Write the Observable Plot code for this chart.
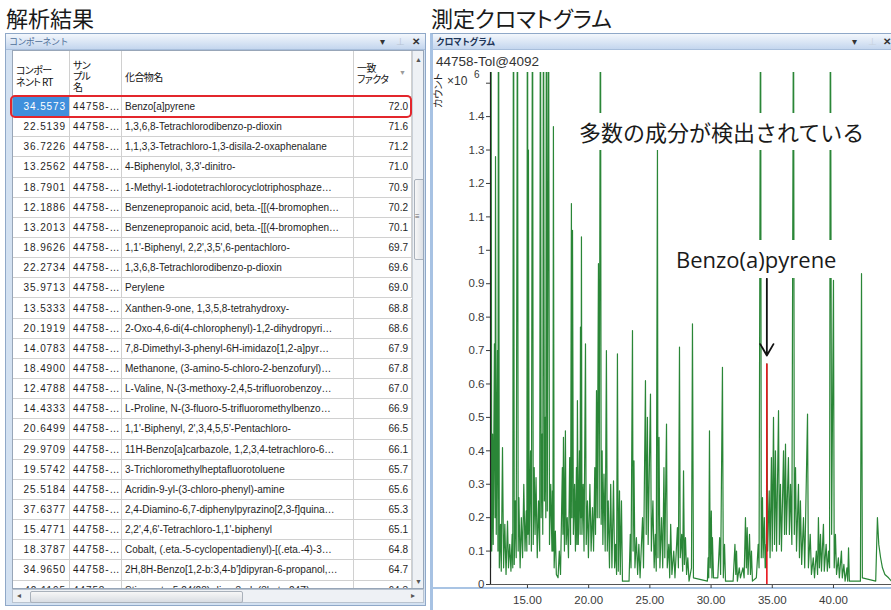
<!DOCTYPE html>
<html><head><meta charset="utf-8">
<script src="https://cdn.jsdelivr.net/npm/d3@7"></script>
<script src="https://cdn.jsdelivr.net/npm/@observablehq/plot@0.6"></script>
<style>
html,body{margin:0;padding:0}
body{width:891px;height:610px;overflow:hidden;background:#fff;position:relative;font-family:"Liberation Sans",Arial,sans-serif}
.abs{position:absolute}
.heading{font-family:"Noto Sans CJK JP";font-size:22px;line-height:26px;color:#1a1a1a;font-feature-settings:"palt";top:4px}
.win{position:absolute;box-sizing:border-box;border:1px solid #8fa8c8;background:#d3e1f1}
.tbar{position:absolute;left:0;right:0;top:0;height:15px;background:linear-gradient(#f3f7fc,#c4d6ee);border-bottom:1px solid #a8bedb}
.tbar .t{position:absolute;left:3px;top:1px;font-family:"Noto Sans CJK JP";font-size:9px;line-height:13px;letter-spacing:-0.6px}
.ico{position:absolute;top:0;font-size:10px;line-height:15px;color:#333}
.grid{position:absolute;background:#fff;border:1px solid #98a6b8;box-sizing:border-box;overflow:hidden}
.cell{position:absolute;white-space:nowrap;overflow:hidden;font-size:10px;color:#1e1e1e;box-sizing:border-box;border-right:1px solid #d0d0d0;border-bottom:1px solid #d0d0d0;padding:0 3px}
.c0,.c3{text-align:right}
.c0,.c1{letter-spacing:0.9px}
.hd{position:absolute;top:0;height:46px;box-sizing:border-box;overflow:hidden;white-space:nowrap;border-right:1px solid #d0d0d0;border-bottom:1px solid #bdbdbd;font-family:"Noto Sans CJK JP";font-size:10px;color:#111;letter-spacing:-0.6px;font-feature-settings:"palt";padding-left:3px}
.note{position:absolute;background:#fff;white-space:nowrap;z-index:5}
</style></head>
<body>
<div class="abs heading" style="left:6px">解析結果</div>
<div class="abs heading" style="left:431px">測定クロマトグラム</div>

<div class="win" style="left:5px;top:33px;width:421px;height:573px">
  <div class="tbar"><span class="t" style="color:#4f6f99">コンポーネント</span>
    <span class="ico" style="left:374px">▾</span><span class="ico" style="left:390px;color:#b8c4d4">⊥</span><span class="ico" style="left:406px;font-weight:bold">✕</span></div>
</div>
<div class="grid" id="grid" style="left:12px;top:50px;width:412px;height:539px"></div>
<div class="abs" id="hscroll" style="left:12px;top:589px;width:412px;height:14px;background:#eef1f5;border:1px solid #b9c3cf;box-sizing:border-box">
  <span class="abs" style="left:4px;top:0;font-size:8px;line-height:12px;color:#555">◂</span>
  <div class="abs" style="left:17px;top:1px;width:211px;height:10px;background:linear-gradient(#f7f7f7,#d9dde3);border:1px solid #a9b1bb;border-radius:2px"></div>
  <span class="abs" style="left:398px;top:0;font-size:8px;line-height:12px;color:#555">▸</span>
</div>
<div class="abs" style="left:10px;top:95px;width:402px;height:23px;border:2px solid #e3262c;border-radius:5px;box-sizing:border-box;z-index:6"></div>

<div class="win" style="left:430px;top:33px;width:470px;height:590px;border-left:3px solid #a7c2e3;background:#fff">
  <div class="tbar"><span class="t" style="color:#1d3558;font-weight:bold">クロマトグラム</span>
    <span class="ico" style="left:419px">▾</span><span class="ico" style="left:435px;color:#c8d2de">⊥</span><span class="ico" style="left:450px;font-weight:bold">✕</span></div>
</div>
<div class="abs" style="left:432px;top:587px;width:459px;height:2px;background:#a9c4e4"></div>
<div class="abs" id="chart" style="left:432px;top:50px"></div>
<div class="abs" style="left:436px;top:54px;font-size:13.5px;color:#333;line-height:16px">44758-Tol@4092</div>
<div class="abs" style="left:432px;top:108px;font-family:'Noto Sans CJK JP';font-size:10px;color:#222;transform:rotate(-90deg);transform-origin:left top;line-height:12px;font-feature-settings:'palt'">カウント</div>
<div class="abs" style="left:447px;top:75px;font-size:12px;color:#333;line-height:12px">×10</div>
<div class="abs" style="left:474px;top:70px;font-size:10px;color:#333;line-height:10px">6</div>
<div class="note" style="left:576px;top:113px;font-family:'Noto Sans CJK JP';font-size:22px;line-height:37px;color:#1a1a1a;padding:0 3px">多数の成分が検出されている</div>
<div class="note" style="left:672px;top:240px;font-family:'Open Sans';font-size:22px;line-height:38px;color:#1a1a1a;padding:0 4px">Benzo(a)pyrene</div>

<script>
// ---------- table data ----------
const rtValues = ["34.5573","22.5139","36.7226","13.2562","18.7901","12.1886","13.2013","18.9626","22.2734","35.9713","13.5333","20.1919","14.0783","18.4900","12.4788","14.4333","20.6499","29.9709","19.5742","25.5184","37.6377","15.4771","18.3787","34.9650","42.1195"];
const sampleLabel = "44758-…";
const compoundNames = [
  "Benzo[a]pyrene",
  "1,3,6,8-Tetrachlorodibenzo-p-dioxin",
  "1,1,3,3-Tetrachloro-1,3-disila-2-oxaphenalane",
  "4-Biphenylol, 3,3'-dinitro-",
  "1-Methyl-1-iodotetrachlorocyclotriphosphaze…",
  "Benzenepropanoic acid, beta.-[[(4-bromophen…",
  "Benzenepropanoic acid, beta.-[[(4-bromophen…",
  "1,1'-Biphenyl, 2,2',3,5',6-pentachloro-",
  "1,3,6,8-Tetrachlorodibenzo-p-dioxin",
  "Perylene",
  "Xanthen-9-one, 1,3,5,8-tetrahydroxy-",
  "2-Oxo-4,6-di(4-chlorophenyl)-1,2-dihydropyri…",
  "7,8-Dimethyl-3-phenyl-6H-imidazo[1,2-a]pyr…",
  "Methanone, (3-amino-5-chloro-2-benzofuryl)…",
  "L-Valine, N-(3-methoxy-2,4,5-trifluorobenzoy…",
  "L-Proline, N-(3-fluoro-5-trifluoromethylbenzo…",
  "1,1'-Biphenyl, 2',3,4,5,5'-Pentachloro-",
  "11H-Benzo[a]carbazole, 1,2,3,4-tetrachloro-6…",
  "3-Trichloromethylheptafluorotoluene",
  "Acridin-9-yl-(3-chloro-phenyl)-amine",
  "2,4-Diamino-6,7-diphenylpyrazino[2,3-f]quina…",
  "2,2',4,6'-Tetrachloro-1,1'-biphenyl",
  "Cobalt, (.eta.-5-cyclopentadienyl)-[(.eta.-4)-3…",
  "2H,8H-Benzo[1,2-b:3,4-b']dipyran-6-propanol,…",
  "Stigmasta-5,24(28)-dien-3-ol, (3beta,24Z)-"
];
const matchFactors = ["72.0","71.6","71.2","71.0","70.9","70.2","70.1","69.7","69.6","69.0","68.8","68.6","67.9","67.8","67.0","66.9","66.5","66.1","65.7","65.6","65.3","65.1","64.8","64.7","64.3"];
const headerLines = [["コンポー","ネント RT"],["サン","プル","名"],["化合物名"],["一致","ファクタ"]];

// ---------- chromatogram data (time in min, counts ×10^6; saturated peaks read as flat tops) ----------
const chromatogram = [[11.98,0.05],[12.01,1.6],[12.03,1.6],[12.08,0.10],[12.15,0.45],[12.20,0.12],[12.30,0.72],[12.35,0.20],[12.39,1.28],[12.45,0.15],[12.55,0.70],[12.59,0.10],[12.62,1.6],[12.65,1.6],[12.70,0.05],[12.80,0.18],[12.86,0.04],[12.96,0.41],[13.05,0.05],[13.15,0.18],[13.25,0.03],[13.37,0.19],[13.45,0.05],[13.55,0.12],[13.65,0.04],[13.75,0.15],[13.80,0.05],[13.845,1.6],[13.875,1.6],[13.92,0.06],[14.00,0.25],[14.08,0.08],[14.165,1.6],[14.195,1.6],[14.24,0.10],[14.30,0.26],[14.40,0.05],[14.50,0.20],[14.60,0.08],[14.70,0.30],[14.80,0.10],[14.90,0.22],[14.95,0.10],[14.985,1.6],[15.015,1.6],[15.04,0.15],[15.08,1.30],[15.14,0.12],[15.25,0.40],[15.32,0.10],[15.395,1.6],[15.425,1.6],[15.47,0.12],[15.55,0.35],[15.62,0.15],[15.70,0.32],[15.80,0.08],[15.90,0.25],[16.00,0.10],[16.045,1.6],[16.075,1.6],[16.12,0.20],[16.20,0.45],[16.25,0.15],[16.295,1.6],[16.325,1.6],[16.38,0.25],[16.45,0.50],[16.50,0.20],[16.535,1.6],[16.565,1.6],[16.62,0.22],[16.705,1.6],[16.735,1.6],[16.80,0.12],[16.90,0.30],[17.00,0.10],[17.04,0.28],[17.08,0.10],[17.12,1.37],[17.18,0.05],[17.28,0.16],[17.36,0.03],[17.50,0.02],[17.60,0.10],[17.70,0.03],[17.85,0.35],[17.90,0.15],[17.94,0.44],[18.02,0.10],[18.10,0.46],[18.16,0.12],[18.25,0.20],[18.35,0.08],[18.45,0.38],[18.52,0.12],[18.59,1.14],[18.63,0.20],[18.68,1.06],[18.75,0.15],[18.85,0.30],[18.92,0.10],[19.00,0.35],[19.04,0.12],[19.08,0.55],[19.15,0.12],[19.25,0.40],[19.30,0.15],[19.33,0.77],[19.37,0.20],[19.41,1.04],[19.45,0.15],[19.55,0.30],[19.62,0.10],[19.74,0.72],[19.80,0.12],[19.90,0.25],[19.98,0.08],[20.10,0.30],[20.20,0.10],[20.31,0.23],[20.40,0.10],[20.50,0.35],[20.56,0.15],[20.64,0.58],[20.70,0.20],[20.80,0.96],[20.86,0.20],[20.945,1.6],[20.975,1.6],[21.02,0.18],[21.10,0.40],[21.16,0.12],[21.25,0.33],[21.35,0.10],[21.45,0.70],[21.52,0.10],[21.60,0.25],[21.70,0.05],[21.80,0.30],[21.90,0.05],[22.03,0.31],[22.12,0.05],[22.20,0.12],[22.28,0.03],[22.35,0.69],[22.42,0.04],[22.52,0.28],[22.58,0.03],[22.68,0.25],[22.76,0.01],[23.30,0.01],[23.40,0.15],[23.46,0.05],[23.58,0.76],[23.63,0.10],[23.70,0.37],[23.78,0.05],[23.90,0.14],[24.00,0.03],[24.10,0.12],[24.20,0.02],[24.40,0.20],[24.48,0.05],[24.64,0.61],[24.70,0.15],[24.80,0.50],[24.86,0.12],[25.05,0.57],[25.12,0.10],[25.25,0.25],[25.35,0.05],[25.45,0.15],[25.52,0.04],[25.62,1.31],[25.66,0.08],[25.75,0.44],[25.82,0.05],[25.95,0.20],[26.05,0.05],[26.15,0.35],[26.22,0.08],[26.36,0.48],[26.42,0.05],[26.55,0.12],[26.62,0.02],[26.70,0.18],[26.80,0.03],[26.95,0.10],[27.05,0.02],[27.25,0.17],[27.33,0.05],[27.42,0.71],[27.48,0.08],[27.60,0.15],[27.68,0.04],[27.75,0.34],[27.82,0.06],[27.91,0.14],[28.00,0.03],[28.10,0.08],[28.20,0.01],[28.40,0.05],[28.48,0.78],[28.56,0.02],[29.70,0.01],[29.76,0.08],[29.81,0.02],[29.87,0.46],[29.93,0.05],[30.02,0.22],[30.07,0.02],[30.11,0.14],[30.20,0.02],[30.55,0.02],[30.70,0.14],[30.78,0.03],[30.93,0.65],[31.00,0.02],[31.10,0.12],[31.18,0.01],[31.80,0.01],[31.95,0.12],[32.02,0.03],[32.08,0.10],[32.15,0.01],[32.30,0.05],[32.40,0.02],[32.60,0.05],[32.70,0.02],[32.81,0.20],[32.88,0.05],[32.95,0.17],[33.02,0.03],[33.14,0.15],[33.22,0.03],[33.30,0.10],[33.38,0.01],[33.70,0.02],[33.85,0.12],[33.92,0.05],[34.025,1.6],[34.055,1.6],[34.10,0.08],[34.20,0.26],[34.25,0.08],[34.35,0.20],[34.42,0.05],[34.50,0.12],[34.52,0.05],[34.557,0.66],[34.62,0.10],[34.75,0.28],[34.82,0.08],[34.93,0.38],[35.00,0.10],[35.10,0.50],[35.18,0.12],[35.26,0.40],[35.35,0.10],[35.51,0.52],[35.58,0.12],[35.67,0.30],[35.75,0.10],[35.92,0.40],[36.00,0.15],[36.08,0.42],[36.15,0.15],[36.32,0.38],[36.40,0.15],[36.49,0.30],[36.60,0.12],[36.715,1.6],[36.745,1.6],[36.80,0.15],[36.90,0.35],[36.98,0.10],[37.14,0.30],[37.22,0.08],[37.30,0.25],[37.40,0.06],[37.55,0.20],[37.65,0.05],[37.88,0.51],[37.95,0.05],[38.10,0.15],[38.20,0.03],[38.35,0.08],[38.45,0.02],[38.60,0.10],[38.70,0.03],[38.77,0.20],[38.85,0.05],[38.94,0.15],[39.02,0.04],[39.18,0.18],[39.25,0.04],[39.40,0.12],[39.50,0.04],[39.60,0.10],[39.68,0.05],[39.735,1.6],[39.765,1.6],[39.85,0.15],[40.00,0.91],[40.06,0.05],[40.16,0.15],[40.25,0.03],[40.40,0.08],[40.48,0.02],[40.65,0.10],[40.72,0.02],[40.85,0.06],[40.95,0.01],[41.10,0.05],[41.16,0.01],[41.23,0.11],[41.30,0.01],[42.20,0.01],[42.29,0.93],[42.36,0.02],[43.45,0.01],[43.59,0.20],[43.70,0.12],[43.85,0.08],[44.00,0.05],[44.20,0.03],[44.50,0.02],[44.74,0.01]];
const benzoPeak = [{t: 34.557, v: 0.66}];
const xDomain = [11.98, 44.74];
const yDomain = [0, 1.532];
const xTicks = [15, 20, 25, 30, 35, 40];
const xTickLabels = ["15.00","20.00","25.00","30.00","35.00","40.00"];
const yTicks = [0,0.1,0.2,0.3,0.4,0.5,0.6,0.7,0.8,0.9,1,1.1,1.2,1.3,1.4,1.5];
const yTickLabels = ["0","0.1","0.2","0.3","0.4","0.5","0.6","0.7","0.8","0.9","1","1.1","1.2","1.3","1.4",""];

// ---------- table ----------
const grid = document.getElementById("grid");
const colX = [0, 57, 109, 341], colW = [57, 52, 232, 58];
const headTop = [13, 7.5, 20, 10.5], headLH = [12, 11, 12, 11];
headerLines.forEach((lines, j) => {
  const h = document.createElement("div");
  h.className = "hd";
  h.style.left = colX[j] + "px"; h.style.width = colW[j] + "px";
  h.style.paddingTop = headTop[j] + "px"; h.style.lineHeight = headLH[j] + "px";
  h.innerHTML = lines.join("<br>");
  grid.appendChild(h);
});
const sortMark = document.createElement("div");
sortMark.className = "abs"; sortMark.textContent = "▼";
Object.assign(sortMark.style, {left: "386px", top: "18px", fontSize: "7px", color: "#9a9a9a"});
grid.appendChild(sortMark);
const rowH = 20.15;
rtValues.forEach((rt, i) => {
  const vals = [rt, sampleLabel, compoundNames[i], matchFactors[i]];
  vals.forEach((v, j) => {
    const c = document.createElement("div");
    c.className = "cell c" + j;
    Object.assign(c.style, {left: colX[j] + "px", top: (46 + i * rowH) + "px", width: colW[j] + "px", height: rowH + "px", lineHeight: "20px"});
    if (i === 0 && j === 0) { c.style.background = "#3f8fdc"; c.style.color = "#fff"; }
    c.textContent = v;
    grid.appendChild(c);
  });
});
// vertical scrollbar
const vs = document.createElement("div");
vs.className = "abs";
Object.assign(vs.style, {left: "399px", top: "0px", width: "12px", height: "539px", background: "#eef1f5", borderLeft: "1px solid #c9d0d8"});
vs.innerHTML = '<span class="abs" style="left:2px;top:5px;font-size:7px;color:#555">▲</span>' +
  '<div class="abs" style="left:1px;top:128px;width:9px;height:79px;background:linear-gradient(90deg,#f7f7f7,#d9dde3);border:1px solid #a9b1bb;border-radius:2px"></div>' +
  '<span class="abs" style="left:2px;top:161px;font-size:8px;color:#666">≡</span>' +
  '<span class="abs" style="left:2px;top:527px;font-size:7px;color:#555">▼</span>';
grid.appendChild(vs);

// ---------- chromatogram ----------
const rows = chromatogram.map(([t, v]) => ({t, v}));
const chart = Plot.plot({
  width: 459, height: 560,
  marginLeft: 58, marginRight: 0, marginTop: 22, marginBottom: 26,
  style: {fontFamily: "Liberation Sans, Arial, sans-serif", fontSize: "11.5px", color: "#3a3a3a", background: "transparent", overflow: "visible"},
  x: {domain: xDomain, ticks: xTicks, tickFormat: d => xTickLabels[xTicks.indexOf(d)], label: null, tickSize: 4, tickPadding: 7},
  y: {domain: yDomain, ticks: yTicks, tickFormat: d => yTickLabels[yTicks.indexOf(d)], label: null, tickSize: 4, tickPadding: 2},
  marks: [
    Plot.line(rows, {x: "t", y: "v", stroke: "#2a8637", strokeWidth: 1.2, clip: true}),
    Plot.ruleX(benzoPeak, {x: "t", y1: 0, y2: "v", stroke: "#e8141c", strokeWidth: 1.6}),
    Plot.ruleY([yDomain[0]], {stroke: "#555"}),
    Plot.ruleX([xDomain[0]], {stroke: "#222", strokeWidth: 1.2}),
    Plot.arrow(benzoPeak, {x1: "t", x2: "t", y1: d => d.v + 0.255, y2: d => d.v + 0.025, stroke: "#111", strokeWidth: 1.8, headLength: 11})
  ]
});
document.getElementById("chart").appendChild(chart);
</script>
</body></html>
